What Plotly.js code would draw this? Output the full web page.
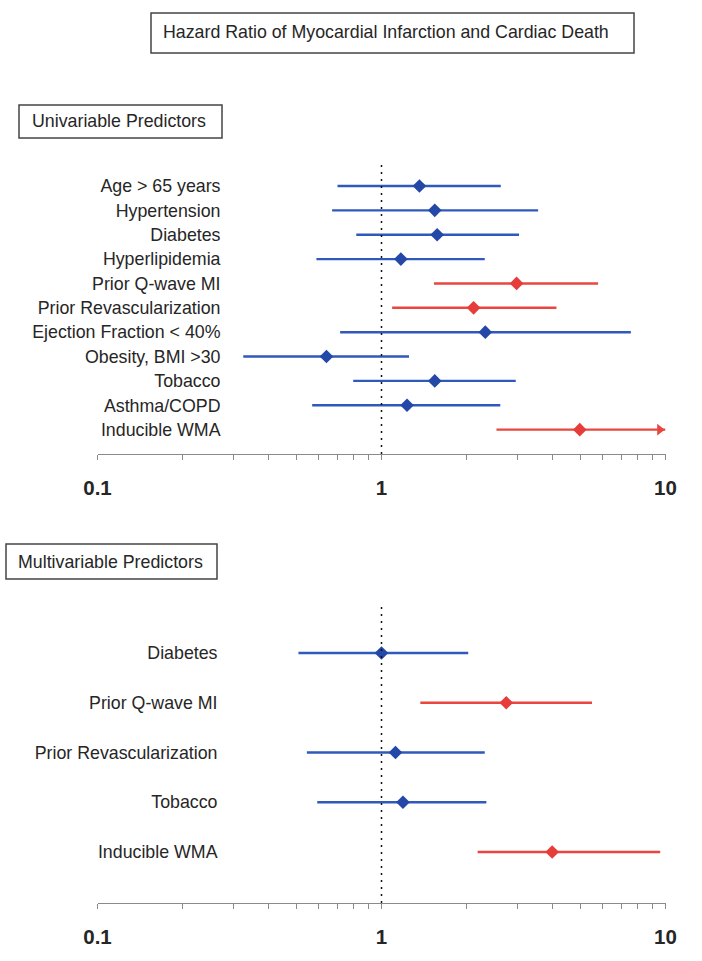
<!DOCTYPE html>
<html>
<head>
<meta charset="utf-8">
<script src="https://cdn.plot.ly/plotly-3.0.1.min.js"></script>
<style>
  html, body { margin: 0; padding: 0; background: #ffffff; }
  #chart { width: 702px; height: 961px; }
</style>
</head>
<body>
<div id="chart"></div>
<script>
// ---------- DATA ----------
const chartTitle = 'Hazard Ratio of Myocardial Infarction and Cardiac Death';
const uniTitle = 'Univariable Predictors';
const multiTitle = 'Multivariable Predictors';

const uniLabels = ['Age > 65 years', 'Hypertension', 'Diabetes', 'Hyperlipidemia',
  'Prior Q-wave MI', 'Prior Revascularization', 'Ejection Fraction < 40%',
  'Obesity, BMI >30', 'Tobacco', 'Asthma/COPD', 'Inducible WMA'];
const uniEst = [1.36, 1.54, 1.57, 1.17, 2.99, 2.11, 2.32, 0.64, 1.54, 1.23, 4.99];
const uniLo  = [0.70, 0.67, 0.815, 0.59, 1.53, 1.09, 0.715, 0.326, 0.795, 0.57, 2.54];
const uniHi  = [2.63, 3.56, 3.05, 2.31, 5.79, 4.13, 7.55, 1.25, 2.97, 2.62, 10];
const uniArrow = [false, false, false, false, false, false, false, false, false, false, true];

const multiLabels = ['Diabetes', 'Prior Q-wave MI', 'Prior Revascularization', 'Tobacco', 'Inducible WMA'];
const multiEst = [1.0, 2.75, 1.12, 1.19, 3.99];
const multiLo  = [0.51, 1.37, 0.546, 0.594, 2.18];
const multiHi  = [2.02, 5.51, 2.31, 2.34, 9.58];

const tickValues = [0.1, 0.2, 0.3, 0.4, 0.5, 0.6, 0.7, 0.8, 0.9, 1, 2, 3, 4, 5, 6, 7, 8, 9, 10];
const tickLabels = ['0.1', '', '', '', '', '', '', '', '', '1', '', '', '', '', '', '', '', '', '10'];
const refValue = 1;

// ---------- STYLE ----------
const BLUE_LINE = '#2f59ba';
const BLUE_DOT = '#2448a8';
const RED_LINE = '#e8463f';
const RED_DOT = '#e63d3a';
const TEXT = '#262626';
const FONT = 'Liberation Sans, Arial, Helvetica, sans-serif';
const LABEL_SIZE = 17.8;
const W = 702, H = 961;
const px = v => v / W;
const py = v => 1 - v / H;

function panelTraces(labels, est, lo, hi, arrow, xa, ya) {
  const traces = [];
  labels.forEach((lab, i) => {
    const sig = lo[i] > refValue;
    traces.push({
      type: 'scatter', mode: 'lines', xaxis: xa, yaxis: ya,
      x: [lo[i], hi[i]], y: [lab, lab],
      line: { color: sig ? RED_LINE : BLUE_LINE, width: 2.4 },
      hoverinfo: 'skip', cliponaxis: false
    });
  });
  traces.push({
    type: 'scatter', mode: 'markers', xaxis: xa, yaxis: ya,
    x: est, y: labels,
    marker: { symbol: 'diamond', size: 10.5,
      color: est.map((e, i) => lo[i] > refValue ? RED_DOT : BLUE_DOT) },
    cliponaxis: false
  });
  if (arrow) {
    const ax = [], ay = [];
    labels.forEach((lab, i) => { if (arrow[i]) { ax.push(hi[i]); ay.push(lab); } });
    traces.push({
      type: 'scatter', mode: 'markers', xaxis: xa, yaxis: ya,
      x: ax, y: ay,
      marker: { symbol: 'triangle-up', angle: 90, standoff: 5.8, size: 10, color: RED_LINE },
      cliponaxis: false
    });
  }
  return traces;
}

const data = [].concat(
  panelTraces(uniLabels, uniEst, uniLo, uniHi, uniArrow, 'x', 'y'),
  panelTraces(multiLabels, multiEst, multiLo, multiHi, null, 'x2', 'y2')
);

function xAxis(anchor) {
  return {
    type: 'log', range: [-1, 1], domain: [px(97.5), px(665.5)], anchor: anchor,
    tickvals: tickValues, ticktext: tickLabels,
    ticks: 'outside', ticklen: 5, tickwidth: 1, tickcolor: '#8a8a8a',
    showline: true, linecolor: '#8a8a8a', linewidth: 1,
    showgrid: false, zeroline: false, fixedrange: true,
    ticklabelstandoff: 10,
    tickfont: { family: FONT, size: 20.5, color: TEXT, weight: 'bold' }
  };
}

function yAxis(labels, range, top, bottom, pos) {
  return {
    type: 'category', categoryorder: 'array', categoryarray: labels,
    range: range, domain: [py(bottom), py(top)],
    anchor: 'free', position: pos,
    showline: false, ticks: '', showgrid: false, zeroline: false, fixedrange: true,
    tickfont: { family: FONT, size: LABEL_SIZE, color: TEXT }
  };
}

const layout = {
  width: W, height: H,
  margin: { l: 0, r: 0, t: 0, b: 0 },
  paper_bgcolor: '#ffffff', plot_bgcolor: '#ffffff',
  showlegend: false,
  xaxis: xAxis('y'),
  xaxis2: xAxis('y2'),
  yaxis: yAxis(uniLabels, [11.0, -1.067], 160, 454, px(220.5)),
  yaxis2: yAxis(multiLabels, [5.025, -1.005], 603, 903, px(217.5)),
  shapes: [
    { type: 'line', xref: 'x', yref: 'y domain', x0: refValue, x1: refValue, y0: 0, y1: 1,
      line: { color: '#111', width: 1.5, dash: '2px,5px' } },
    { type: 'line', xref: 'x2', yref: 'y2 domain', x0: refValue, x1: refValue, y0: 0, y1: 1,
      line: { color: '#111', width: 1.5, dash: '2px,5px' } },
    { type: 'rect', xref: 'paper', yref: 'paper', x0: px(151), x1: px(634), y0: py(53), y1: py(13),
      line: { color: '#444', width: 1.5 } },
    { type: 'rect', xref: 'paper', yref: 'paper', x0: px(19), x1: px(222), y0: py(138), y1: py(105),
      line: { color: '#444', width: 1.5 } },
    { type: 'rect', xref: 'paper', yref: 'paper', x0: px(6), x1: px(217), y0: py(579), y1: py(544),
      line: { color: '#444', width: 1.5 } }
  ],
  annotations: [
    { text: chartTitle, xref: 'paper', yref: 'paper', x: px(161), y: py(32),
      xanchor: 'left', yanchor: 'middle', showarrow: false,
      font: { family: FONT, size: LABEL_SIZE, color: TEXT } },
    { text: uniTitle, xref: 'paper', yref: 'paper', x: px(30), y: py(121.5),
      xanchor: 'left', yanchor: 'middle', showarrow: false,
      font: { family: FONT, size: LABEL_SIZE, color: TEXT } },
    { text: multiTitle, xref: 'paper', yref: 'paper', x: px(16), y: py(561.5),
      xanchor: 'left', yanchor: 'middle', showarrow: false,
      font: { family: FONT, size: LABEL_SIZE, color: TEXT } }
  ]
};

Plotly.newPlot('chart', data, layout, { displayModeBar: false, staticPlot: true });
</script>
</body>
</html>
